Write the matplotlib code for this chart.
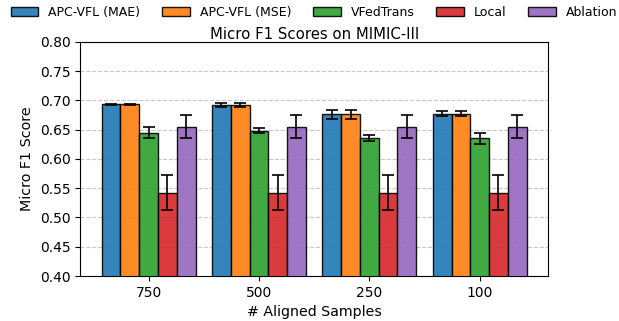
import matplotlib.pyplot as plt
import numpy as np

groups = ['750', '500', '250', '100']
methods = ['APC-VFL (MAE)', 'APC-VFL (MSE)', 'VFedTrans', 'Local', 'Ablation']
colors = ['#1f77b4', '#ff7f0e', '#2ca02c', '#d62728', '#9467bd']

mae = [0.693, 0.692, 0.676, 0.677]
mae_err = [0.001, 0.003, 0.008, 0.004]
mse = [0.693, 0.692, 0.676, 0.677]
mse_err = [0.001, 0.003, 0.008, 0.004]
vfedtrans = [0.645, 0.648, 0.635, 0.635]
vfedtrans_err = [0.009, 0.004, 0.005, 0.010]
local = [0.542, 0.542, 0.542, 0.542]
local_err = [0.030, 0.030, 0.030, 0.030]
ablation = [0.655, 0.655, 0.655, 0.655]
ablation_err = [0.020, 0.020, 0.020, 0.020]

values = [mae, mse, vfedtrans, local, ablation]
errors = [mae_err, mse_err, vfedtrans_err, local_err, ablation_err]

fig, ax = plt.subplots(figsize=(6.19, 3.21), dpi=100)
x = np.arange(len(groups))
width = 0.17

for i in range(len(methods)):
    ax.bar(x + (i - 2) * width, values[i], width, yerr=errors[i], capsize=4,
           color=colors[i], alpha=0.9, edgecolor='black', linewidth=1,
           label=methods[i], zorder=3, error_kw={'elinewidth': 1.2, 'capthick': 1.2})

ax.set_ylim(0.40, 0.80)
ax.set_yticks(np.arange(0.40, 0.801, 0.05))
ax.set_xticks(x)
ax.set_xticklabels(groups)
ax.set_xlabel('# Aligned Samples', fontsize=10.2)
ax.set_ylabel('Micro F1 Score', fontsize=10.3)
ax.set_title('Micro F1 Scores on MIMIC-III', fontsize=10.7, pad=2)
ax.grid(axis='y', linestyle='--', alpha=0.7, zorder=0)
ax.legend(loc='upper center', bbox_to_anchor=(0.5, 1.2), ncol=5, frameon=False,
          fontsize=9, handlelength=2.2, columnspacing=1.75)

plt.subplots_adjust(left=0.13, right=0.885, top=0.87, bottom=0.14)
plt.savefig('out.png', dpi=100)
